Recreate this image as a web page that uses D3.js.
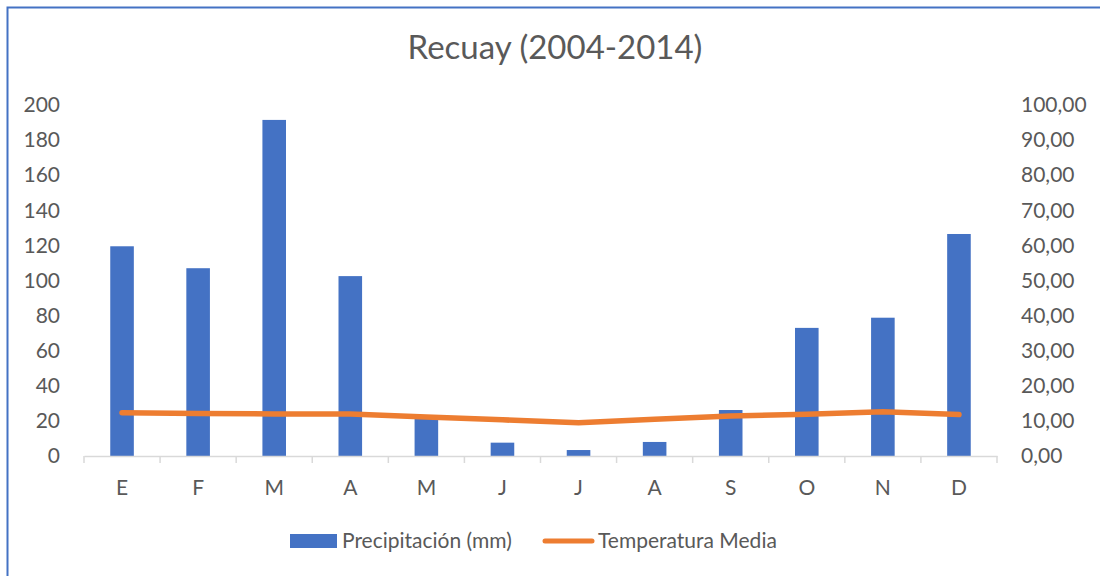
<!DOCTYPE html>
<meta charset="utf-8">
<title>Recuay (2004-2014)</title>
<style>
    body { margin: 0; background: #fff; }
    text { font-family: Lato, "Open Sans", sans-serif; fill: #595959; }
    .axis path, .axis line { stroke: #d9d9d9; }
</style>
<body>
<div id="chart"></div>
<script src="https://d3js.org/d3.v7.min.js"></script>
<script>
    // data
    var months = ["E", "F", "M", "A", "M", "J", "J", "A", "S", "O", "N", "D"];
    var precip = [119.5, 107, 191.5, 102.5, 23, 7.6, 3.4, 8, 26.2, 73, 78.8, 126.5];
    var temp = [12.3, 12.1, 12.0, 12.0, 11.1, 10.3, 9.5, 10.5, 11.4, 11.9, 12.6, 11.8];
    var leftTicks = [0, 20, 40, 60, 80, 100, 120, 140, 160, 180, 200];
    var rightTicks = [0, 10, 20, 30, 40, 50, 60, 70, 80, 90, 100];

    var W = 1100, H = 576;
    var margin = { top: 105, right: 103, bottom: 120, left: 84 },
        width = W - margin.left - margin.right,
        height = H - margin.top - margin.bottom;

    var svg = d3.select("#chart").append("svg")
        .attr("width", W)
        .attr("height", H);

    // chart border (extends off the picture right/bottom)
    svg.append("rect")
        .attr("x", 7.5).attr("y", 7.5)
        .attr("width", W + 20).attr("height", H + 20)
        .attr("fill", "none")
        .attr("stroke", "#4472c4")
        .attr("stroke-width", 2);

    svg.append("text")
        .attr("x", 555).attr("y", 59)
        .attr("text-anchor", "middle")
        .attr("font-size", "33px")
        .text("Recuay (2004-2014)");

    var g = svg.append("g")
        .attr("transform", "translate(" + margin.left + "," + margin.top + ")");

    var x = d3.scaleBand().domain(d3.range(months.length)).range([0, width]).paddingInner(0.69).paddingOuter(0.345);
    var xc = d3.scaleBand().domain(d3.range(months.length)).range([0, width]);
    var y0 = d3.scaleLinear().domain([0, 200]).range([height, 0]);
    var y1 = d3.scaleLinear().domain([0, 100]).range([height, 0]);

    // bars
    g.selectAll(".bar")
        .data(precip)
        .enter().append("rect")
        .attr("class", "bar")
        .attr("x", function (d, i) { return x(i); })
        .attr("width", x.bandwidth())
        .attr("y", function (d) { return y0(d); })
        .attr("height", function (d) { return height - y0(d); })
        .attr("fill", "#4472c4");

    // x axis
    var xAxis = g.append("g")
        .attr("class", "axis")
        .attr("transform", "translate(0," + height + ")")
        .call(d3.axisBottom(xc).tickSize(0).tickFormat(function (i) { return months[i]; }));
    xAxis.select(".domain").attr("stroke", "#d9d9d9").attr("stroke-width", 1.5);
    xAxis.selectAll("text").attr("font-size", "21px").attr("dy", null).attr("y", 39);
    xAxis.selectAll(".sep")
        .data(d3.range(months.length + 1))
        .enter().append("line")
        .attr("class", "sep")
        .attr("x1", function (i) { return i * xc.step(); })
        .attr("x2", function (i) { return i * xc.step(); })
        .attr("y1", 0).attr("y2", 7)
        .attr("stroke", "#d9d9d9").attr("stroke-width", 1.5);

    // left axis
    var yl = g.append("g")
        .call(d3.axisLeft(y0).tickValues(leftTicks).tickSize(0).tickPadding(24));
    yl.select(".domain").remove();
    yl.selectAll("text").attr("font-size", "21px");

    // right axis
    var yr = g.append("g")
        .attr("transform", "translate(" + width + ",0)")
        .call(d3.axisRight(y1).tickValues(rightTicks).tickSize(0).tickPadding(24)
            .tickFormat(function (d) { return d3.format(".2f")(d).replace(".", ","); }));
    yr.select(".domain").remove();
    yr.selectAll("text").attr("font-size", "21px");

    // temperature line
    var line = d3.line()
        .x(function (d, i) { return xc(i) + xc.bandwidth() / 2; })
        .y(function (d) { return y1(d); });
    g.append("path")
        .datum(temp)
        .attr("d", line)
        .attr("fill", "none")
        .attr("stroke", "#ed7d31")
        .attr("stroke-width", 5.5)
        .attr("stroke-linecap", "round")
        .attr("stroke-linejoin", "round");

    // legend
    var leg = svg.append("g");
    leg.append("rect")
        .attr("x", 290).attr("y", 534).attr("width", 47).attr("height", 14)
        .attr("fill", "#4472c4");
    leg.append("text")
        .attr("x", 342).attr("y", 548)
        .attr("font-size", "21px")
        .text("Precipitación (mm)");
    leg.append("line")
        .attr("x1", 545).attr("x2", 592).attr("y1", 541).attr("y2", 541)
        .attr("stroke", "#ed7d31").attr("stroke-width", 5).attr("stroke-linecap", "round");
    leg.append("text")
        .attr("x", 598).attr("y", 548)
        .attr("font-size", "21px")
        .text("Temperatura Media");
</script>
</body>
